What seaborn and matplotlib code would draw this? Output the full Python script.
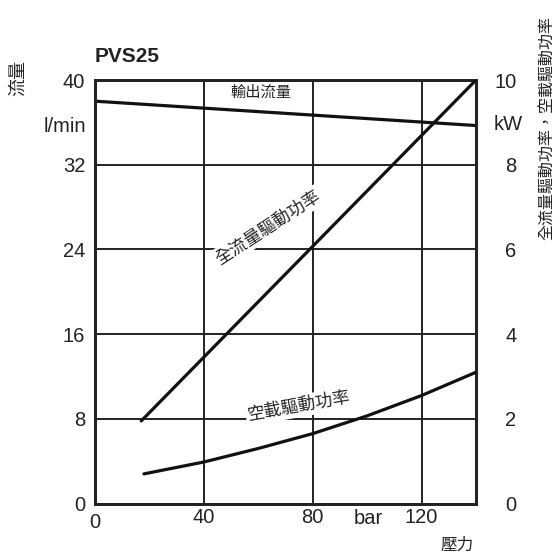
import matplotlib
matplotlib.use("Agg")
import matplotlib.pyplot as plt
import seaborn as sns
import pandas as pd

# Pump characteristic data (pressure in bar)
flow_pressure = [0, 140]
flow_lpm = [38.0, 35.7]

full_power_pressure = [17, 140]
full_power_kw = [1.95, 10.0]

noload_pressure = [18, 40, 60, 80, 100, 120, 140]
noload_kw = [0.70, 0.98, 1.30, 1.65, 2.07, 2.55, 3.10]

x_ticks = [0, 40, 80, 120]
flow_ticks = [0, 8, 16, 24, 32, 40]
power_ticks = [0, 2, 4, 6, 8, 10]

sns.set_theme(style="white")
plt.rcParams["font.family"] = ["Liberation Sans", "Noto Sans CJK TC", "DejaVu Sans"]
CJK = ["Noto Sans CJK TC", "DejaVu Sans"]
INK = "#222222"
NUM = 14.5

fig = plt.figure(figsize=(5.6, 5.56), dpi=100)
ax = fig.add_axes([0.1696, 0.0944, 0.6804, 0.7617])
ax2 = ax.twinx()

flow_df = pd.DataFrame({"p": flow_pressure, "q": flow_lpm})
full_df = pd.DataFrame({"p": full_power_pressure, "kw": full_power_kw})
nl_df = pd.DataFrame({"p": noload_pressure, "kw": noload_kw})

lw = 2.3
sns.lineplot(data=flow_df, x="p", y="q", ax=ax, color="#111111", lw=lw, zorder=5)
sns.lineplot(data=full_df, x="p", y="kw", ax=ax2, color="#111111", lw=lw, zorder=5)
sns.lineplot(data=nl_df, x="p", y="kw", ax=ax2, color="#111111", lw=lw, zorder=5)

ax.set_xlim(0, 140)
ax.set_ylim(0, 40)
ax2.set_ylim(0, 10)

ax.set_xticks(x_ticks)
ax.set_yticks(flow_ticks)
ax2.set_yticks(power_ticks)
ax.set_xticklabels([str(v) for v in x_ticks])
ax.set_yticklabels([str(v) for v in flow_ticks])
ax2.set_yticklabels([str(v) for v in power_ticks])

ax.grid(True, color=INK, lw=1.4)
ax.set_axisbelow(True)
ax.tick_params(axis="both", length=0, labelsize=NUM, colors=INK)
ax.tick_params(axis="x", pad=3)
ax.tick_params(axis="y", pad=7)
ax2.tick_params(axis="y", length=0, labelsize=NUM, colors=INK, pad=29)
for t in ax2.get_yticklabels():
    t.set_ha("right")
# nudge the x-axis zero below the y-axis zero
ax.get_xticklabels()[0].set_y(-0.012)

ax.set_xlabel("")
ax.set_ylabel("")
ax2.set_ylabel("")
ax2.grid(False)
for sp in list(ax.spines.values()) + list(ax2.spines.values()):
    sp.set_color(INK)
    sp.set_linewidth(2.0)

# unit and axis captions
fig.text(95 / 560, 1 - 57 / 556, "PVS25", fontsize=15, fontweight="bold",
         ha="left", va="center", color=INK)
fig.text(86 / 560, 1 - 126 / 556, "l/min", fontsize=NUM, ha="right", va="center",
         color=INK)
fig.text(508 / 560, 1 - 125 / 556, "kW", fontsize=NUM, ha="center", va="center",
         color=INK)
fig.text(368 / 560, 1 - 518 / 556, "bar", fontsize=NUM, ha="center", va="center",
         color=INK)
fig.text(457 / 560, 1 - 545 / 556, "壓力", fontsize=12, ha="center", va="center",
         family=CJK, color=INK)
fig.text(18 / 560, 1 - 78 / 556, "流量", fontsize=13, ha="center", va="center",
         rotation=90, family=CJK, color=INK)
fig.text(548 / 560, 1 - 128 / 556, "全流量驅動功率，空載驅動功率", fontsize=11.5,
         ha="center", va="center", rotation=90, family=CJK, color=INK)

# curve labels
box = dict(facecolor="white", edgecolor="none", pad=1.5)
ax.text(61, 38.8, "輸出流量", fontsize=11, ha="center", va="center",
        family=CJK, color=INK, bbox=box, zorder=6)
ax2.text(63.5, 6.52, "全流量驅動功率", fontsize=12.5, ha="center", va="center",
         rotation=33, family=CJK, color=INK, bbox=box, zorder=6)
ax2.text(75, 2.3, "空載驅動功率", fontsize=12.5, ha="center", va="center",
         rotation=10, family=CJK, color=INK, bbox=box, zorder=6)

fig.savefig("out.png", dpi=100, facecolor="white")
